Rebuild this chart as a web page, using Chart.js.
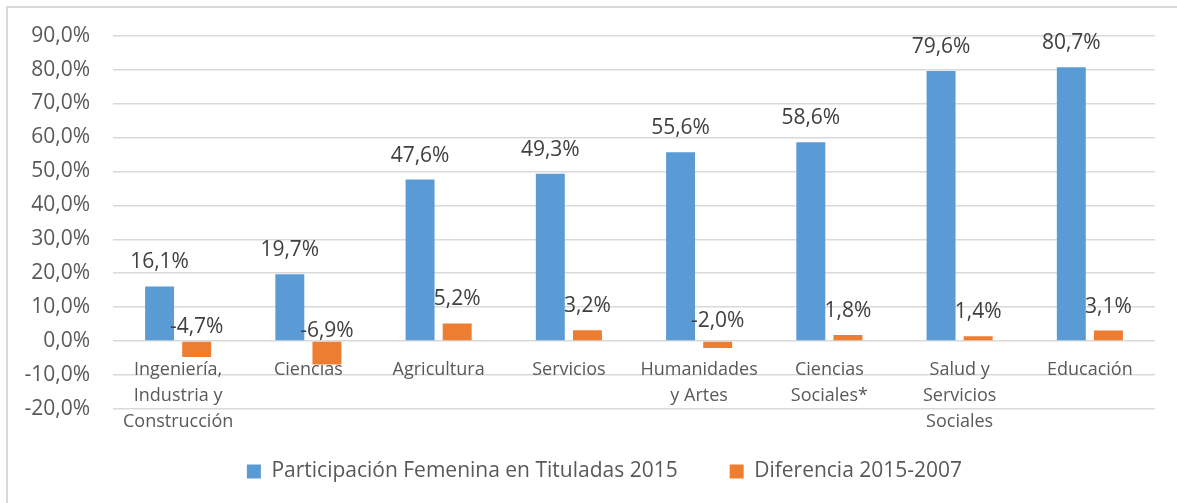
<!DOCTYPE html>
<html>
<head>
<meta charset="utf-8">
<script src="https://cdn.jsdelivr.net/npm/chart.js@4/dist/chart.umd.min.js"></script>
<style>
  html, body { margin: 0; padding: 0; background: #fff; overflow: hidden; }
  #frame { position: absolute; left: 6px; top: 6px; width: 1300px; height: 600px;
           border-left: 2px solid #d9d9d9; border-top: 2px solid #d9d9d9; }
  #c { position: absolute; left: 0; top: 0; }
</style>
</head>
<body>
<div id="frame"></div>
<canvas id="c" width="1177" height="503"></canvas>
<script>
// categories and series
var categorias = [
  ['Ingeniería,', 'Industria y', 'Construcción'],
  'Ciencias',
  'Agricultura',
  'Servicios',
  ['Humanidades', 'y Artes'],
  ['Ciencias', 'Sociales*'],
  ['Salud y', 'Servicios', 'Sociales'],
  'Educación'
];
var participacion2015 = [16.1, 19.7, 47.6, 49.3, 55.6, 58.6, 79.6, 80.7];
var diferencia = [-4.7, -6.9, 5.2, 3.2, -2.0, 1.8, 1.4, 3.1];
var yMin = -20, yMax = 90, yStep = 10;

function pct(v) {
  return v.toFixed(1).replace('.', ',') + '%';
}

Chart.defaults.font.family = "'Open Sans', sans-serif";
Chart.defaults.color = '#595959';

// value labels above each bar
var etiquetas = {
  id: 'etiquetas',
  afterDatasetsDraw: function(chart) {
    var ctx = chart.ctx;
    ctx.save();
    ctx.font = "21px 'Open Sans'";
    ctx.fillStyle = '#404040';
    ctx.textAlign = 'center';
    ctx.textBaseline = 'middle';
    chart.data.datasets.forEach(function(ds, i) {
      chart.getDatasetMeta(i).data.forEach(function(bar, j) {
        var v = ds.data[j];
        var y;
        if (v >= 0) {
          y = bar.y - 24;
        } else {
          y = bar.base - 24 + (bar.y - bar.base) * 0.6;
        }
        ctx.fillText(pct(v), bar.x, y);
      });
    });
    ctx.restore();
  }
};

// legend sits a bit right of the canvas centre, like the original
var moverLeyenda = {
  id: 'moverLeyenda',
  afterLayout: function(chart) {
    chart.legend.left += 25;
    chart.legend.right += 25;
  }
};

new Chart(document.getElementById('c'), {
  type: 'bar',
  data: {
    labels: categorias,
    datasets: [
      {
        label: 'Participación Femenina en Tituladas 2015',
        data: participacion2015,
        backgroundColor: '#5B9BD5',
        barPercentage: 0.78,
        categoryPercentage: 0.57
      },
      {
        label: 'Diferencia 2015-2007',
        data: diferencia,
        backgroundColor: '#ED7D31',
        barPercentage: 0.78,
        categoryPercentage: 0.57
      }
    ]
  },
  options: {
    responsive: false,
    animation: false,
    devicePixelRatio: 1,
    layout: { padding: { top: 35, left: 4, right: 22, bottom: 11 } },
    plugins: {
      tooltip: { enabled: false },
      legend: {
        position: 'bottom',
        labels: {
          boxWidth: 14,
          boxHeight: 14,
          padding: 52,
          font: { size: 21 },
          color: '#595959'
        }
      }
    },
    scales: {
      x: {
        position: { y: 0 },
        grid: { display: false },
        border: { display: false },
        ticks: {
          padding: 8,
          maxRotation: 0,
          autoSkip: false,
          font: { size: 18, lineHeight: 1.45 },
          color: '#595959'
        }
      },
      y: {
        min: yMin,
        max: yMax,
        border: { display: false },
        grid: { color: '#d9d9d9', lineWidth: 1.5, drawTicks: false },
        afterFit: function(scale) { scale.width = 109; },
        ticks: {
          stepSize: yStep,
          padding: 23,
          font: { size: 21 },
          color: '#595959',
          callback: function(v) { return pct(v); }
        }
      }
    }
  },
  plugins: [etiquetas, moverLeyenda]
});
</script>
</body>
</html>
